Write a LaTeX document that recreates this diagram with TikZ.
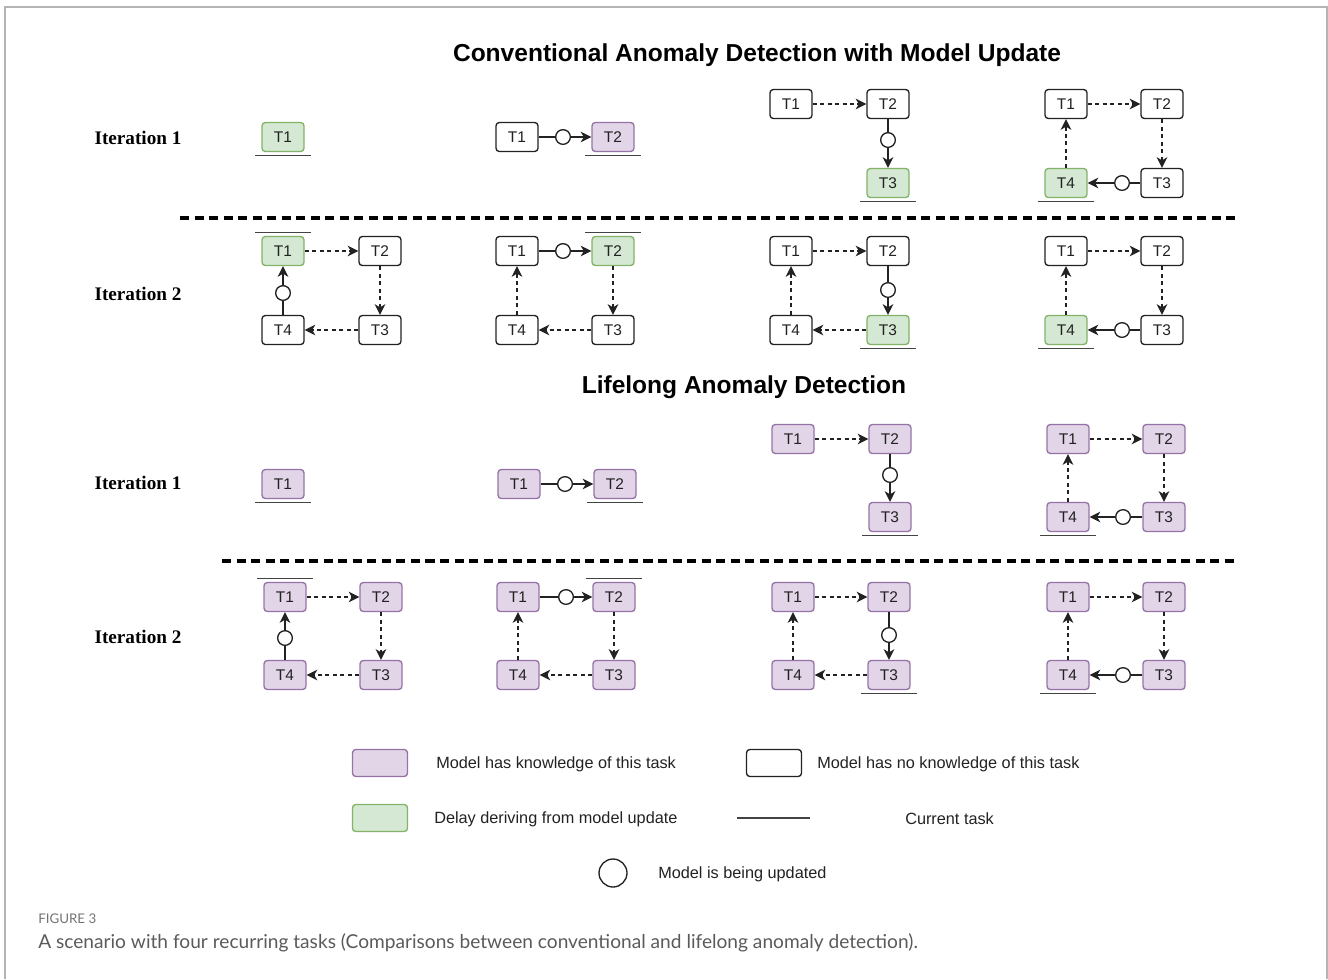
\documentclass[tikz,border=0pt]{standalone}
\usepackage{fontspec}
\setmainfont{Liberation Serif}
\setsansfont{Liberation Sans}
\newfontfamily\capfont{Lato}
\usetikzlibrary{arrows.meta,calc}

\definecolor{kfill}{HTML}{E1D5E7}
\definecolor{kdraw}{HTML}{9673A6}
\definecolor{gfill}{HTML}{D5E8D4}
\definecolor{gdraw}{HTML}{82B366}
\definecolor{ink}{HTML}{222222}
\definecolor{framegray}{HTML}{B4B4B4}
\definecolor{capgray}{HTML}{5A5A5A}

% marks for the task that is current: a bar under or over its box
\newcommand\curunder[1]{\draw[cur] ($(#1.south west)+(-6,3.5)$) -- ($(#1.south east)+(6,3.5)$);}
\newcommand\curover[1]{\draw[cur] ($(#1.north west)+(-6,-3.5)$) -- ($(#1.north east)+(6,-3.5)$);}

\tikzset{
  x=0.75pt, y=-0.75pt,
  task/.style={rectangle, rounded corners=2.5pt, minimum width=31.5pt,
    minimum height=21.75pt, inner sep=0pt, line width=1pt,
    font=\sffamily\fontsize{11.6}{13}\selectfont, text=ink},
  known/.style={task, fill=kfill, draw=kdraw},
  delay/.style={task, fill=gfill, draw=gdraw},
  unknown/.style={task, fill=white, draw=ink},
  upd/.style={circle, draw=ink, fill=white, minimum size=11pt, inner sep=0pt, line width=1pt},
  link/.style={draw=ink, line width=1pt},
  tip/.style={-{Stealth[length=8pt,width=8pt,inset=2.4pt]}},
  flow/.style={link, tip, dash pattern=on 3pt off 2.6pt},
  cur/.style={draw=ink!85, line width=1pt},
  sep/.style={draw=black, line width=2.4pt, dash pattern=on 6.8pt off 4.1pt},
  rowlabel/.style={font=\rmfamily\bfseries\fontsize{14.4}{16}\selectfont},
  heading/.style={font=\sffamily\bfseries\fontsize{18.4}{20}\selectfont},
  legtext/.style={anchor=west, inner sep=0pt, font=\sffamily\fontsize{12.2}{14}\selectfont, text=ink},
}

\begin{document}
\begin{tikzpicture}
\useasboundingbox (0,0) rectangle (1328,979);

% page frame
\draw[framegray, line width=1.2pt] (5,979) -- (5,7) -- (1327,7) -- (1327,979);

% ---------------- conventional detection ----------------
\node[heading] (convtitle) at (757,55) {Conventional Anomaly Detection with Model Update};
\node[rowlabel] (convit1) at (138,138) {Iteration 1};
\node[rowlabel] (convit2) at (138,294) {Iteration 2};

% iteration 1
\node[delay] (a1t1) at (283,137) {T1};
\curunder{a1t1}

\node[unknown] (a2t1) at (517,137) {T1};
\node[known] (a2t2) at (613,137) {T2};
\node[upd] (a2u) at (563,137) {};
\draw[link] (a2t1) -- (a2u);
\draw[link,tip] (a2u) -- (a2t2);
\curunder{a2t2}

\node[unknown] (a3t1) at (791,104) {T1};
\node[unknown] (a3t2) at (888,104) {T2};
\node[delay] (a3t3) at (888,183) {T3};
\node[upd] (a3u) at (888,140) {};
\draw[flow] (a3t1) -- (a3t2);
\draw[link] (a3t2) -- (a3u);
\draw[link,tip] (a3u) -- (a3t3);
\curunder{a3t3}

\node[unknown] (a4t1) at (1066,104) {T1};
\node[unknown] (a4t2) at (1162,104) {T2};
\node[unknown] (a4t3) at (1162,183) {T3};
\node[delay] (a4t4) at (1066,183) {T4};
\node[upd] (a4u) at (1122,183) {};
\draw[flow] (a4t1) -- (a4t2);
\draw[flow] (a4t2) -- (a4t3);
\draw[link] (a4t3) -- (a4u);
\draw[link,tip] (a4u) -- (a4t4);
\draw[flow] (a4t4) -- (a4t1);
\curunder{a4t4}

\coordinate (s1a) at (180,218);
\coordinate (s1b) at (1240,218);
\draw[sep] (s1a) -- (s1b);

% iteration 2
\node[delay] (b1t1) at (283,251) {T1};
\node[unknown] (b1t2) at (380,251) {T2};
\node[unknown] (b1t3) at (380,330) {T3};
\node[unknown] (b1t4) at (283,330) {T4};
\node[upd] (b1u) at (283,293) {};
\draw[flow] (b1t1) -- (b1t2);
\draw[flow] (b1t2) -- (b1t3);
\draw[flow] (b1t3) -- (b1t4);
\draw[link] (b1t4) -- (b1u);
\draw[link,tip] (b1u) -- (b1t1);
\curover{b1t1}

\node[unknown] (b2t1) at (517,251) {T1};
\node[delay] (b2t2) at (613,251) {T2};
\node[unknown] (b2t3) at (613,330) {T3};
\node[unknown] (b2t4) at (517,330) {T4};
\node[upd] (b2u) at (563,251) {};
\draw[link] (b2t1) -- (b2u);
\draw[link,tip] (b2u) -- (b2t2);
\draw[flow] (b2t2) -- (b2t3);
\draw[flow] (b2t3) -- (b2t4);
\draw[flow] (b2t4) -- (b2t1);
\curover{b2t2}

\node[unknown] (b3t1) at (791,251) {T1};
\node[unknown] (b3t2) at (888,251) {T2};
\node[delay] (b3t3) at (888,330) {T3};
\node[unknown] (b3t4) at (791,330) {T4};
\node[upd] (b3u) at (888,290) {};
\draw[flow] (b3t1) -- (b3t2);
\draw[link] (b3t2) -- (b3u);
\draw[link,tip] (b3u) -- (b3t3);
\draw[flow] (b3t3) -- (b3t4);
\draw[flow] (b3t4) -- (b3t1);
\curunder{b3t3}

\node[unknown] (b4t1) at (1066,251) {T1};
\node[unknown] (b4t2) at (1162,251) {T2};
\node[unknown] (b4t3) at (1162,330) {T3};
\node[delay] (b4t4) at (1066,330) {T4};
\node[upd] (b4u) at (1122,330) {};
\draw[flow] (b4t1) -- (b4t2);
\draw[flow] (b4t2) -- (b4t3);
\draw[link] (b4t3) -- (b4u);
\draw[link,tip] (b4u) -- (b4t4);
\draw[flow] (b4t4) -- (b4t1);
\curunder{b4t4}

% ---------------- lifelong detection ----------------
\node[heading] (lifetitle) at (744,387) {Lifelong Anomaly Detection};
\node[rowlabel] (lifeit1) at (138,483) {Iteration 1};
\node[rowlabel] (lifeit2) at (138,637) {Iteration 2};

% iteration 1
\node[known] (c1t1) at (283,484) {T1};
\curunder{c1t1}

\node[known] (c2t1) at (519,484) {T1};
\node[known] (c2t2) at (615,484) {T2};
\node[upd] (c2u) at (565,484) {};
\draw[link] (c2t1) -- (c2u);
\draw[link,tip] (c2u) -- (c2t2);
\curunder{c2t2}

\node[known] (c3t1) at (793,439) {T1};
\node[known] (c3t2) at (890,439) {T2};
\node[known] (c3t3) at (890,517) {T3};
\node[upd] (c3u) at (890,475) {};
\draw[flow] (c3t1) -- (c3t2);
\draw[link] (c3t2) -- (c3u);
\draw[link,tip] (c3u) -- (c3t3);
\curunder{c3t3}

\node[known] (c4t1) at (1068,439) {T1};
\node[known] (c4t2) at (1164,439) {T2};
\node[known] (c4t3) at (1164,517) {T3};
\node[known] (c4t4) at (1068,517) {T4};
\node[upd] (c4u) at (1123,517) {};
\draw[flow] (c4t1) -- (c4t2);
\draw[flow] (c4t2) -- (c4t3);
\draw[link] (c4t3) -- (c4u);
\draw[link,tip] (c4u) -- (c4t4);
\draw[flow] (c4t4) -- (c4t1);
\curunder{c4t4}

\coordinate (s2a) at (222,561);
\coordinate (s2b) at (1237,561);
\draw[sep] (s2a) -- (s2b);

% iteration 2
\node[known] (d1t1) at (285,597) {T1};
\node[known] (d1t2) at (381,597) {T2};
\node[known] (d1t3) at (381,675) {T3};
\node[known] (d1t4) at (285,675) {T4};
\node[upd] (d1u) at (285,638) {};
\draw[flow] (d1t1) -- (d1t2);
\draw[flow] (d1t2) -- (d1t3);
\draw[flow] (d1t3) -- (d1t4);
\draw[link] (d1t4) -- (d1u);
\draw[link,tip] (d1u) -- (d1t1);
\curover{d1t1}

\node[known] (d2t1) at (518,597) {T1};
\node[known] (d2t2) at (614,597) {T2};
\node[known] (d2t3) at (614,675) {T3};
\node[known] (d2t4) at (518,675) {T4};
\node[upd] (d2u) at (566,597) {};
\draw[link] (d2t1) -- (d2u);
\draw[link,tip] (d2u) -- (d2t2);
\draw[flow] (d2t2) -- (d2t3);
\draw[flow] (d2t3) -- (d2t4);
\draw[flow] (d2t4) -- (d2t1);
\curover{d2t2}

\node[known] (d3t1) at (793,597) {T1};
\node[known] (d3t2) at (889,597) {T2};
\node[known] (d3t3) at (889,675) {T3};
\node[known] (d3t4) at (793,675) {T4};
\node[upd] (d3u) at (889,635) {};
\draw[flow] (d3t1) -- (d3t2);
\draw[link] (d3t2) -- (d3u);
\draw[link,tip] (d3u) -- (d3t3);
\draw[flow] (d3t3) -- (d3t4);
\draw[flow] (d3t4) -- (d3t1);
\curunder{d3t3}

\node[known] (d4t1) at (1068,597) {T1};
\node[known] (d4t2) at (1164,597) {T2};
\node[known] (d4t3) at (1164,675) {T3};
\node[known] (d4t4) at (1068,675) {T4};
\node[upd] (d4u) at (1123,675) {};
\draw[flow] (d4t1) -- (d4t2);
\draw[flow] (d4t2) -- (d4t3);
\draw[link] (d4t3) -- (d4u);
\draw[link,tip] (d4u) -- (d4t4);
\draw[flow] (d4t4) -- (d4t1);
\curunder{d4t4}

% ---------------- legend ----------------
\node[known, minimum width=41.25pt, minimum height=20.25pt] (legknown) at (380,763) {};
\node[legtext] (legknowntxt) at (436,764) {Model has knowledge of this task};
\node[unknown, minimum width=41.25pt, minimum height=20.25pt] (legunknown) at (774,763) {};
\node[legtext] (legunknowntxt) at (817,764) {Model has no knowledge of this task};
\node[delay, minimum width=41.25pt, minimum height=20.25pt] (legdelay) at (380,818) {};
\node[legtext] (legdelaytxt) at (434,819) {Delay deriving from model update};
\coordinate (legcurA) at (737,818);
\coordinate (legcurB) at (810,818);
\draw[cur] (legcurA) -- (legcurB);
\node[legtext] (legcurtxt) at (905,819) {Current task};
\node[upd, minimum size=21pt] (legupd) at (613,873) {};
\node[legtext] (legupdtxt) at (658,874) {Model is being updated};

% ---------------- caption ----------------
\node[anchor=west, inner sep=0pt, text=capgray!85, font=\capfont\fontsize{10}{11}\selectfont] (figlabel) at (38,919) {FIGURE 3};
\node[anchor=west, inner sep=0pt, text=capgray, font=\capfont\fontsize{14.35}{16}\selectfont] (figcaption) at (38,943)
  {A scenario with four recurring tasks (Comparisons between conventional and lifelong anomaly detection).};
\end{tikzpicture}
\end{document}
